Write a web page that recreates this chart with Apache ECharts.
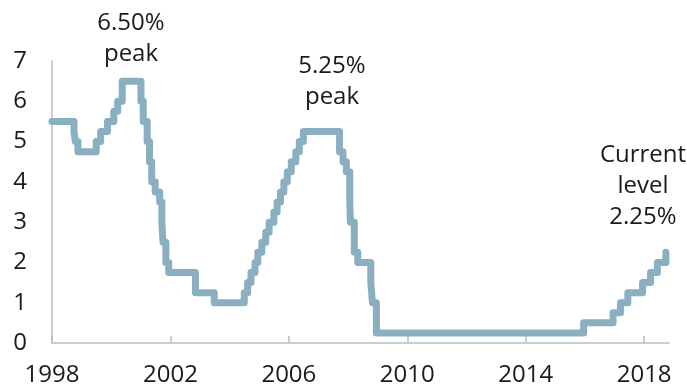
<!DOCTYPE html>
<html>
<head>
<meta charset="utf-8">
<script src="https://cdn.jsdelivr.net/npm/echarts@6/dist/echarts.min.js"></script>
<style>html,body{margin:0;padding:0;background:#fff}#c{width:687px;height:389px}</style>
</head>
<body>
<div id="c"></div>
<script>
// Fed funds target rate changes (date, new rate %)
const changeDates = ["1998-01-01","1998-09-29","1998-10-15","1998-11-17","1999-06-30","1999-08-24","1999-11-16","2000-02-02","2000-03-21","2000-05-16","2001-01-03","2001-01-31","2001-03-20","2001-04-18","2001-05-15","2001-06-27","2001-08-21","2001-09-17","2001-10-02","2001-11-06","2001-12-11","2002-11-06","2003-06-25","2004-06-30","2004-08-10","2004-09-21","2004-11-10","2004-12-14","2005-02-02","2005-03-22","2005-05-03","2005-06-30","2005-08-09","2005-09-20","2005-11-01","2005-12-13","2006-01-31","2006-03-28","2006-05-10","2006-06-29","2007-09-18","2007-10-31","2007-12-11","2008-01-22","2008-01-30","2008-03-18","2008-04-30","2008-10-08","2008-10-29","2008-12-16","2015-12-16","2016-12-14","2017-03-15","2017-06-14","2017-12-13","2018-03-21","2018-06-13","2018-09-26","2018-09-30"];
const rates = [5.50,5.25,5.00,4.75,5.00,5.25,5.50,5.75,6.00,6.50,6.00,5.50,5.00,4.50,4.00,3.75,3.50,3.00,2.50,2.00,1.75,1.25,1.00,1.25,1.50,1.75,2.00,2.25,2.50,2.75,3.00,3.25,3.50,3.75,4.00,4.25,4.50,4.75,5.00,5.25,4.75,4.50,4.25,3.50,3.00,2.25,2.00,1.50,1.00,0.25,0.50,0.75,1.00,1.25,1.50,1.75,2.00,2.25,2.25];
const xTickYears = [1998, 2002, 2006, 2010, 2014, 2018];
const annotations = [
  {text: "6.50%\npeak", x: 131, y: 39},
  {text: "5.25%\npeak", x: 332, y: 82},
  {text: "Current\nlevel\n2.25%", x: 643, y: 186}
];

function toDecYear(s) {
  const p = s.split("-").map(Number);
  const start = Date.UTC(p[0], 0, 1), end = Date.UTC(p[0] + 1, 0, 1);
  return p[0] + (Date.UTC(p[0], p[1] - 1, p[2]) - start) / (end - start);
}
const seriesData = changeDates.map((d, i) => [toDecYear(d), rates[i]]);

const FONT = "'Open Sans', 'Noto Sans', sans-serif";
const TXT = "#1a1a1a";
const chart = echarts.init(document.getElementById('c'), null, {renderer: 'canvas'});
chart.setOption({
  animation: false,
  backgroundColor: '#fff',
  grid: {left: 52, right: 18, top: 61, bottom: 46, containLabel: false},
  xAxis: {
    type: 'value', min: 1998, max: 2018.84,
    axisLine: {show: true, lineStyle: {color: '#bdbdbd', width: 1.5}},
    axisTick: {show: true, inside: true, length: 7, customValues: xTickYears, lineStyle: {color: '#bdbdbd', width: 1.5}},
    axisLabel: {customValues: xTickYears, formatter: v => String(Math.round(v)), fontSize: 24, fontFamily: FONT, color: TXT, margin: 20},
    splitLine: {show: false}
  },
  yAxis: {
    type: 'value', min: 0, max: 7, interval: 1,
    axisLine: {show: true, lineStyle: {color: '#bdbdbd', width: 1.5}},
    axisTick: {show: false},
    axisLabel: {fontSize: 24, fontFamily: FONT, color: TXT, margin: 25, formatter: v => String(v)},
    splitLine: {show: false}
  },
  series: [{
    type: 'line', step: 'end', data: seriesData, showSymbol: false, symbol: 'none',
    lineStyle: {color: '#89afc1', width: 7, cap: 'round', join: 'round'}
  }],
  graphic: annotations.map(a => ({
    type: 'text', x: a.x, y: a.y,
    style: {text: a.text, fontSize: 24, fontFamily: FONT, fill: TXT, align: 'center', verticalAlign: 'middle', lineHeight: 31}
  }))
});
</script>
</body>
</html>
